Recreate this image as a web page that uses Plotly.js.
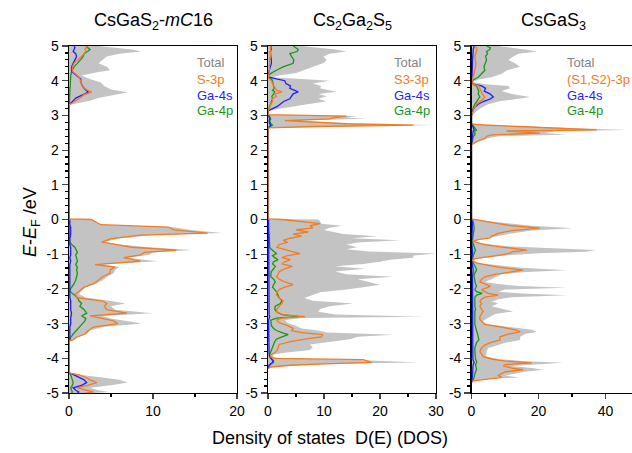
<!DOCTYPE html>
<html>
<head>
<meta charset="utf-8">
<script src="https://cdn.plot.ly/plotly-3.0.1.min.js"></script>
<style>html,body{margin:0;padding:0;background:#fff;}</style>
</head>
<body>
<div id="chart" style="width:632px;height:453px;"></div>
<script>
// ---------- Panel titles & legend labels ----------
const panelTitles = ['CsGaS<sub>2</sub>-<i>mC</i>16', 'Cs<sub>2</sub>Ga<sub>2</sub>S<sub>5</sub>', 'CsGaS<sub>3</sub>'];
const legendLabels = [
  ['Total', 'S-3p', 'Ga-4s', 'Ga-4p'],
  ['Total', 'S3-3p', 'Ga-4s', 'Ga-4p'],
  ['Total', '(S1,S2)-3p', 'Ga-4s', 'Ga-4p']
];
const yTickVals = [-5, -4, -3, -2, -1, 0, 1, 2, 3, 4, 5];
const yTickText = ['-5', '-4', '-3', '-2', '-1', '0', '1', '2', '3', '4', '5'];

// ---------- Panel 1: CsGaS2-mC16 ----------
const e1 = [5.0, 4.95, 4.9, 4.84, 4.78, 4.7, 4.6, 4.5, 4.4, 4.3, 4.25, 4.15, 4.05, 3.95, 3.85, 3.75, 3.67, 3.6, 3.5, 3.42, 3.36, 3.3,
  0.02, 0.0, -0.05, -0.15, -0.22, -0.3, -0.39, -0.45, -0.55, -0.65, -0.72, -0.8, -0.88, -0.95, -1.02, -1.1, -1.2, -1.3, -1.37, -1.45,
  -1.55, -1.65, -1.75, -1.85, -1.95, -2.05, -2.15, -2.25, -2.35, -2.42, -2.5, -2.6, -2.7, -2.78, -2.85, -2.92, -3.0, -3.1, -3.2, -3.3,
  -3.4, -3.47, -3.5,
  -4.42, -4.48, -4.55, -4.62, -4.7, -4.78, -4.85, -4.92, -4.97, -5.0];
const total1 = [3.5, 6, 7.5, 8.6, 6, 4.5, 4, 3.5, 4.5, 4.9, 3.5, 1.5, 2.5, 3.8, 4.2, 5.0, 7.0, 5.5, 3.5, 2.5, 1, 0,
  0, 2.7, 3.2, 3.8, 12.5, 14.5, 18.2, 10, 6, 4.2, 6, 9.5, 14.6, 10, 9.5, 7, 10.5, 4, 6, 5.5,
  5.3, 4.5, 4, 3.2, 2.0, 1.5, 1.2, 2, 5, 6.7, 5, 5.5, 9.9, 4, 5, 7, 8.7, 4, 2.5, 2.1,
  1, 0.5, 0,
  0, 1.5, 4, 6, 7.0, 5, 2.5, 3.5, 4.7, 3];
const sp1 = [2.0, 2.1, 1.9, 2.0, 1.8, 1.5, 1.0, 0.6, 0.4, 0.4, 0.5, 1.0, 1.3, 1.4, 1.6, 2.0, 2.7, 1.8, 1.3, 0.8, 0.4, 0,
  0, 2.7, 3.0, 3.8, 11.8, 12.5, 16.5, 8.5, 5, 3.9, 5.5, 7.5, 12.8, 9, 8.5, 6.5, 8.5, 3.1, 5.5, 4.9,
  4.9, 4, 3.5, 2.9, 1.8, 1.3, 0.8, 0.9, 4.0, 4.5, 4.2, 4.5, 6.9, 2.5, 4.0, 5.3, 5.8, 2.9, 2.3, 1.9,
  0.8, 0.5, 0,
  0, 1.2, 2, 2.5, 3.3, 2.2, 1.0, 2.0, 2.9, 2];
const gas1 = [0.6, 0.7, 0.6, 0.5, 0.8, 0.9, 0.7, 0.5, 0.3, 0.3, 0.4, 0.9, 1.4, 1.4, 1.6, 1.9, 2.3, 1.7, 0.8, 0.5, 0.2, 0,
  0, 0.1, 0.1, 0.1, 0.2, 0.2, 0.2, 0.2, 0.1, 0.1, 0.1, 0.2, 0.2, 0.2, 0.2, 0.1, 0.2, 0.1, 0.1, 0.1,
  0.1, 0.1, 0.1, 0.1, 0.1, 0.1, 0.1, 0.1, 0.2, 0.2, 0.2, 0.2, 0.3, 0.2, 0.2, 0.2, 0.2, 0.1, 0.1, 0.1,
  0.1, 0.1, 0,
  0, 0.6, 1.3, 1.8, 2.1, 1.5, 0.5, 0.8, 1.2, 1];
const gap1 = [2.0, 2.3, 2.5, 2.2, 1.8, 1.7, 1.4, 1.0, 0.6, 0.4, 0.3, 0.2, 0.2, 0.2, 0.15, 0.1, 0.1, 0.1, 0.1, 0.05, 0.05, 0,
  0, 0, 0, 0, 0, 0, 0, 0, 0.05, 0.1, 0.3, 0.7, 0.9, 1.0, 0.8, 0.9, 1.0, 0.8, 1.0, 0.9,
  1.0, 0.9, 0.8, 0.6, 0.3, 0.05, 0.5, 1.0, 1.2, 1.5, 1.3, 1.8, 2.1, 1.5, 2.0, 1.9, 1.6, 1.2, 0.8, 0.5,
  0.2, 0.1, 0,
  0, 0.2, 0.3, 0.4, 0.5, 0.4, 0.2, 0.3, 0.4, 0.3];

// ---------- Panel 2: Cs2Ga2S5 ----------
const e2 = [5.0, 4.95, 4.9, 4.84, 4.78, 4.7, 4.6, 4.5, 4.4, 4.3, 4.22, 4.15, 4.1, 4.05, 4.0, 3.92, 3.85, 3.78, 3.72, 3.68,
  3.62, 3.55, 3.48, 3.4, 3.32, 3.25, 3.18, 3.12,
  3.02, 2.98, 2.94, 2.9, 2.85, 2.8, 2.76, 2.72, 2.68, 2.64,
  0.02, 0, -0.05, -0.12, -0.18, -0.24, -0.3, -0.36, -0.42, -0.48,
  -0.54, -0.6, -0.66, -0.72, -0.8, -0.86, -0.92, -0.98, -1.04, -1.1,
  -1.16, -1.22, -1.28, -1.35, -1.42, -1.5, -1.58, -1.65, -1.72, -1.8,
  -1.88, -1.95, -2.02, -2.1, -2.18, -2.26, -2.34, -2.42, -2.5, -2.58,
  -2.66, -2.74, -2.8, -2.84, -2.9, -2.98, -3.06, -3.14, -3.2, -3.26,
  -3.32, -3.38, -3.45, -3.52, -3.6, -3.68, -3.76, -3.84, -3.9, -3.95,
  -4.0, -4.04, -4.08, -4.12, -4.16, -4.2, -4.25, -4.3];
const total2 = [6, 9, 12, 14, 11, 9.9, 10.5, 9.8, 8, 6.5, 5, 2, 0.7, 6, 11, 8, 9.5, 9.3, 11, 12.2,
  9, 10.5, 9, 10.4, 7, 4, 1.5, 0,
  0, 16, 14, 17.5, 6, 10, 16, 30, 12, 0,
  0, 9, 9.3, 9.5, 13.2, 11, 10, 11.5, 13.4, 19.5,
  15, 23.6, 16, 14, 15.9, 14, 18, 30, 26, 25.9,
  21.8, 20, 17, 12, 17.3, 12, 14, 22.3, 16, 18,
  20, 17, 14, 9.3, 8, 6.5, 8, 15.2, 11, 9.3,
  9, 12, 27.7, 6, 3, 3.5, 5, 6, 9, 10.5,
  22.3, 16, 14.6, 11, 7.5, 8, 7.5, 3, 0.8, 1,
  2, 15, 22, 26.8, 12, 5, 0.8, 0];
const sp2 = [0.4, 0.5, 0.5, 0.5, 0.4, 0.4, 0.3, 0.3, 0.3, 0.3, 0.2, 0.1, 0, 0.3, 0.6, 0.8, 1.0, 1.3, 1.6, 2.5,
  1.2, 1.5, 0.8, 0.8, 0.5, 0.3, 0.1, 0,
  0, 14, 12, 11, 3, 8, 14, 26, 8, 0,
  0, 2.5, 5, 9.3, 7.5, 8, 5, 7.2, 4.5, 6,
  4, 2.7, 3.5, 2, 1.6, 3, 4.5, 5.7, 3.5, 2.5,
  4, 3, 2.5, 4.3, 3, 2, 1.8, 1.5, 2, 3,
  4.5, 3, 2, 1.6, 1.5, 2, 2.7, 2.5, 2, 1.6,
  1.5, 2.5, 6.6, 2.5, 1.5, 2.1, 3.5, 4.5, 4.2, 6,
  9.8, 9.5, 6.6, 4, 2, 1.8, 1.7, 1.2, 0.5, 0.5,
  1, 17, 18, 18.5, 10, 4, 0.5, 0];
const gas2 = [0.5, 0.6, 0.6, 0.4, 0.5, 0.5, 0.6, 0.6, 0.4, 0.3, 0.1, 0, 0.2, 1.5, 3.0, 3.2, 4.0, 3.9, 4.8, 5.4,
  4.5, 4.2, 3.9, 2.8, 2.2, 1.6, 0.6, 0,
  0, 0.2, 0.2, 0.3, 0.2, 0.2, 0.3, 0.5, 0.3, 0,
  0, 0.1, 0.1, 0.1, 0.1, 0.1, 0.1, 0.1, 0.1, 0.1,
  0.1, 0.1, 0.1, 0.1, 0.1, 0.1, 0.1, 0.1, 0.1, 0.1,
  0.1, 0.1, 0.1, 0.1, 0.1, 0.1, 0.1, 0.1, 0.1, 0.1,
  0.1, 0.1, 0.1, 0.1, 0.1, 0.1, 0.1, 0.1, 0.1, 0.1,
  0.1, 0.2, 0.3, 0.2, 0.1, 0.1, 0.1, 0.1, 0.1, 0.1,
  0.1, 0.1, 0.1, 0.1, 0.1, 0.1, 0.1, 0.1, 0.2, 0.3,
  0.5, 0.8, 0.9, 0.8, 0.4, 0.2, 0.1, 0];
const gap2 = [4.5, 5.0, 5.4, 5.2, 3.9, 4.2, 4.6, 4.5, 2.7, 1.5, 0.6, 0.1, 0.1, 0.6, 0.8, 0.9, 1.0, 1.1, 0.8, 1.2,
  1.0, 0.7, 0.8, 0.6, 0.5, 0.3, 0.1, 0,
  0, 0.3, 0.4, 0.5, 0.3, 0.4, 0.5, 0.8, 0.4, 0,
  0, 0, 0, 0, 0.1, 0.1, 0.1, 0.1, 0.2, 0.2,
  0.2, 0.2, 0.3, 0.3, 0.3, 0.6, 1.0, 1.5, 0.8, 1.2,
  1.8, 1.0, 0.8, 1.3, 1.0, 0.6, 0.5, 0.5, 1.0, 1.3,
  1.0, 0.8, 1.2, 1.6, 1.8, 2.0, 2.5, 2.2, 1.3, 1.2,
  1.5, 2.5, 5.4, 1.5, 0.5, 0.5, 0.6, 1.0, 1.5, 2.5,
  3.6, 2.5, 1.5, 1.2, 1.0, 0.9, 0.7, 0.5, 0.3, 0.3,
  0.5, 0.8, 1.0, 1.0, 0.5, 0.3, 0.1, 0];

// ---------- Panel 3: CsGaS3 ----------
const e3 = [5.0, 4.95, 4.9, 4.84, 4.78, 4.7, 4.6, 4.5, 4.4, 4.3, 4.2, 4.1, 4.02, 3.96,
  3.9, 3.85, 3.78, 3.7, 3.62, 3.53, 3.47, 3.4, 3.32, 3.22, 3.12, 3.02, 2.98,
  2.76, 2.73, 2.68, 2.63, 2.58, 2.55, 2.49, 2.44, 2.4, 2.34, 2.27, 2.2, 2.16,
  0.02, 0, -0.06, -0.12, -0.18, -0.25, -0.32, -0.4, -0.48, -0.53,
  -0.58, -0.62, -0.66, -0.72, -0.78, -0.84, -0.88, -0.93, -0.97, -1.02,
  -1.08, -1.13, -1.18, -1.25, -1.32, -1.39, -1.46, -1.52, -1.58, -1.65,
  -1.72, -1.8, -1.86, -1.92, -1.97, -2.02, -2.08, -2.13, -2.18, -2.24,
  -2.3, -2.36, -2.42, -2.5, -2.58, -2.65, -2.72, -2.8, -2.88, -2.95,
  -3.02, -3.1, -3.18, -3.24, -3.3, -3.38, -3.47, -3.55, -3.62, -3.7,
  -3.8, -3.88, -3.95, -4.02, -4.08, -4.13, -4.18, -4.22, -4.28, -4.33,
  -4.39, -4.45, -4.5, -4.55, -4.6, -4.65, -4.7];
const total3 = [8, 13, 16, 19.5, 14, 12.5, 11, 13, 14.5, 10.6, 9, 6, 1.5, 0.3,
  4, 11, 11.5, 9, 12, 17.5, 12.4, 8, 5, 3, 1.5, 0.3, 0,
  0, 3, 17, 30, 46.4, 25, 22, 28.4, 8, 5, 3, 1, 0,
  0, 1, 6, 12, 18, 30.3, 18, 12, 8, 5.5,
  2, 0.3, 2, 6, 12, 25, 37, 34.3, 20, 12,
  6, 1, 0.3, 2, 8, 15, 28.4, 15, 9, 7.6,
  6, 4, 8, 14, 28.4, 10, 8, 15, 28.4, 12,
  8, 6, 8, 6, 9, 12.4, 7, 5.5, 4, 3,
  5, 12, 18, 19.5, 16, 14.5, 14.5, 10, 8, 5,
  4.5, 4.4, 4.4, 8, 15, 27.3, 18, 12, 18, 21.4,
  16, 12, 10, 14.4, 5, 0.5, 0];
const sp3 = [1.2, 1.5, 1.6, 1.5, 1.2, 1.0, 1.1, 1.3, 1.2, 1.0, 0.8, 0.5, 0.2, 0.1,
  0.3, 2.2, 2.5, 2.8, 3.2, 4, 3.5, 2.5, 1.5, 0.8, 0.4, 0.1, 0,
  0, 2, 14, 26, 37.4, 10.5, 20.4, 6, 4.5, 4, 2, 0.8, 0,
  0, 1, 4, 8, 12, 20.4, 12, 8, 6, 5.5,
  2, 0.3, 1.5, 3.5, 8, 13, 16.5, 12, 11.5, 9,
  4.5, 1, 0.3, 1.5, 5, 9, 15.4, 11, 7, 4,
  3, 2.5, 4, 5.6, 4.5, 3, 4, 5, 8, 4,
  3, 2.5, 3, 2.5, 3, 3.5, 3, 2.5, 2.5, 3.3,
  4, 9, 13, 14.5, 11, 8.5, 8.5, 5.6, 4, 3,
  2.5, 3, 3.5, 6, 10, 18, 10, 9.5, 12, 15.4,
  10, 8.8, 8, 9, 4, 0.5, 0];
const gas3 = [0.8, 0.6, 0.5, 0.5, 0.4, 0.4, 0.3, 0.3, 0.3, 0.2, 0.2, 0.2, 0.1, 0.05,
  0.5, 3.0, 4.2, 3.8, 5.5, 6.5, 5.5, 3.5, 2, 0.8, 0.3, 0.1, 0,
  0, 0.2, 0.4, 0.6, 0.8, 0.5, 0.5, 0.5, 0.3, 0.2, 0.1, 0.05, 0,
  0, 0.1, 0.2, 0.3, 0.3, 0.3, 0.3, 0.3, 0.3, 0.2,
  0.1, 0.05, 0.1, 0.2, 0.3, 0.3, 0.4, 0.3, 0.3, 0.3,
  0.2, 0.1, 0.05, 0.1, 0.3, 0.4, 0.5, 0.4, 0.3, 0.3,
  0.3, 0.3, 0.3, 0.3, 0.3, 0.3, 0.3, 0.3, 0.3, 0.3,
  0.3, 0.3, 0.3, 0.3, 0.3, 0.3, 0.3, 0.3, 0.3, 0.3,
  0.3, 0.3, 0.3, 0.3, 0.3, 0.3, 0.3, 0.3, 0.3, 0.3,
  0.3, 0.3, 0.3, 0.4, 0.6, 0.8, 0.5, 0.4, 0.4, 0.4,
  0.4, 0.3, 0.3, 0.3, 0.2, 0.1, 0];
const gap3 = [4.5, 5.6, 5.5, 4.5, 4.8, 4.2, 4.5, 4.0, 3.7, 4.0, 3.0, 2.0, 0.5, 0.2,
  0.3, 1.5, 1.8, 2.2, 2.0, 2.5, 2.0, 1.5, 1.0, 0.5, 0.3, 0.1, 0,
  0, 0.3, 0.8, 1.2, 1.5, 1.0, 1.0, 1.0, 0.6, 0.4, 0.2, 0.1, 0,
  0, 0.2, 0.5, 0.6, 0.7, 0.8, 0.7, 0.6, 0.6, 0.5,
  0.3, 0.2, 0.3, 0.5, 0.8, 1.0, 1.2, 1.0, 0.8, 0.6,
  0.5, 0.3, 0.2, 0.5, 1.0, 1.3, 1.5, 1.2, 0.8, 0.8,
  0.9, 1.0, 1.2, 1.5, 1.3, 1.0, 1.5, 3.2, 1.5, 1.0,
  1.0, 1.1, 1.0, 1.0, 1.2, 1.0, 1.0, 1.0, 0.9, 1.0,
  1.0, 1.2, 1.5, 1.5, 1.8, 2.0, 2.2, 1.5, 1.2, 1.0,
  1.0, 1.0, 1.0, 1.2, 1.5, 1.5, 1.2, 1.3, 1.5, 1.5,
  1.2, 1.0, 0.9, 0.8, 0.6, 0.2, 0];

// ---------- styling ----------
const COL_TOTAL_FILL = '#c3c3c3';
const COL_TOTAL_TEXT = '#858585';
const COL_S = '#f47b20';
const COL_GAS = '#1f1fff';
const COL_GAP = '#1b961b';
const FONT = 'Liberation Sans, Arial, sans-serif';

const panels = [
  {e: e1, tot: total1, s: sp1, b: gas1, g: gap1},
  {e: e2, tot: total2, s: sp2, b: gas2, g: gap2},
  {e: e3, tot: total3, s: sp3, b: gas3, g: gap3}
];

const traces = [];
panels.forEach((p, i) => {
  const xa = i === 0 ? 'x' : 'x' + (i + 1);
  const ya = i === 0 ? 'y' : 'y' + (i + 1);
  traces.push({x: p.tot, y: p.e, xaxis: xa, yaxis: ya, type: 'scatter', mode: 'lines',
    fill: 'tozerox', fillcolor: COL_TOTAL_FILL, line: {width: 0, color: COL_TOTAL_FILL}, hoverinfo: 'skip'});
  traces.push({x: p.g, y: p.e, xaxis: xa, yaxis: ya, type: 'scatter', mode: 'lines',
    line: {width: 1.3, color: COL_GAP}});
  traces.push({x: p.b, y: p.e, xaxis: xa, yaxis: ya, type: 'scatter', mode: 'lines',
    line: {width: 1.3, color: COL_GAS}});
  traces.push({x: p.s, y: p.e, xaxis: xa, yaxis: ya, type: 'scatter', mode: 'lines',
    line: {width: 1.3, color: COL_S}});
});

const W = 632, H = 453, MT = 46, MB = 60;
const plotH = H - MT - MB;
const px2x = px => px / W;
const px2y = py => (H - MB - py) / plotH;

function xaxisDef(domain, range, dtick, minorDtick, mirror) {
  return {domain: domain, range: range, dtick: dtick, tick0: 0, ticks: 'outside', ticklen: 5, tickwidth: 1.2,
    minor: {dtick: minorDtick, tick0: 0, ticks: 'outside', ticklen: 3, tickwidth: 1.2, tickcolor: '#000'},
    showline: true, linecolor: '#000', linewidth: 1.3, mirror: mirror, zeroline: false, showgrid: false,
    tickfont: {family: FONT, size: 14, color: '#000'}, automargin: false, fixedrange: true};
}
function yaxisDef(anchor, mirror) {
  return {anchor: anchor, range: [-5, 5], tickmode: 'array', tickvals: yTickVals, ticktext: yTickText,
    ticks: 'outside', ticklen: 6, tickwidth: 1.2,
    minor: {dtick: 0.2, tick0: 0, ticks: 'outside', ticklen: 3, tickwidth: 1.2, tickcolor: '#000'},
    showline: true, linecolor: '#000', linewidth: 1.3, mirror: mirror, zeroline: false, showgrid: false,
    tickfont: {family: FONT, size: 14, color: '#000'}, automargin: false, fixedrange: true};
}

const annotations = [];
const titleCenters = [153, 352, 553];
panelTitles.forEach((t, i) => {
  annotations.push({text: t, xref: 'paper', yref: 'paper', x: px2x(titleCenters[i]), y: px2y(21),
    xanchor: 'center', yanchor: 'middle', showarrow: false, font: {family: FONT, size: 18, color: '#000'}});
});
const legendLeft = [195, 392, 565];
const legendY = [62, 79, 95, 111];
const legendColors = [COL_TOTAL_TEXT, COL_S, COL_GAS, COL_GAP];
legendLabels.forEach((labels, i) => {
  labels.forEach((lab, j) => {
    annotations.push({text: lab, xref: 'paper', yref: 'paper', x: px2x(legendLeft[i]), y: px2y(legendY[j]),
      xanchor: 'left', yanchor: 'middle', showarrow: false, font: {family: FONT, size: 13, color: legendColors[j]}});
  });
});
annotations.push({text: '<i>E</i>-<i>E</i><sub>F</sub> /eV', xref: 'paper', yref: 'paper', x: px2x(31), y: px2y(222),
  xanchor: 'center', yanchor: 'middle', textangle: -90, showarrow: false, font: {family: FONT, size: 18, color: '#000'}});
annotations.push({text: 'Density of states  D(E) (DOS)', xref: 'paper', yref: 'paper', x: px2x(330), y: px2y(438),
  xanchor: 'center', yanchor: 'middle', showarrow: false, font: {family: FONT, size: 18, color: '#000'}});

const layout = {
  width: W, height: H,
  margin: {l: 0, r: 0, t: MT, b: MB, pad: 0},
  paper_bgcolor: '#fff', plot_bgcolor: '#fff',
  showlegend: false,
  font: {family: FONT, color: '#000'},
  xaxis: xaxisDef([px2x(69), px2x(237)], [0, 20], 10, 5, true),
  yaxis: yaxisDef('x', true),
  xaxis2: xaxisDef([px2x(268), px2x(436)], [0, 30], 10, 5, true),
  yaxis2: yaxisDef('x2', true),
  xaxis3: xaxisDef([px2x(471.5), 1], [0, (W - 471.5) / 3.35], 20, 10, true),
  yaxis3: yaxisDef('x3', false),
  annotations: annotations
};

Plotly.newPlot('chart', traces, layout, {staticPlot: true, displayModeBar: false});
</script>
</body>
</html>
